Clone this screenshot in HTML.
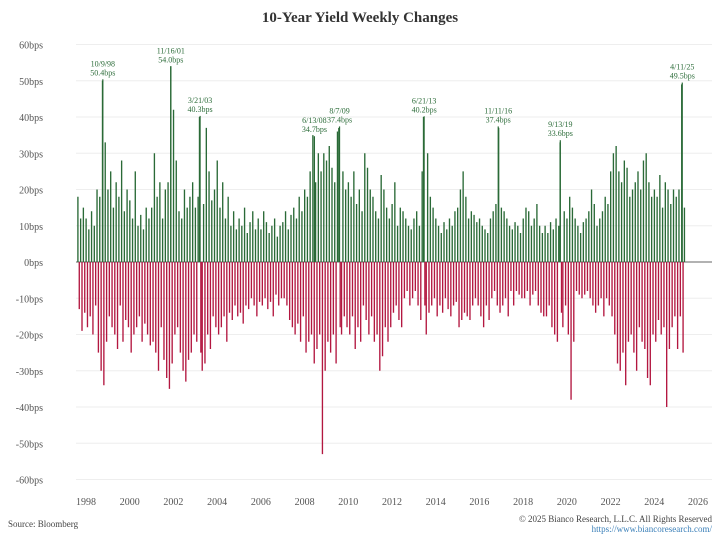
<!DOCTYPE html>
<html><head><meta charset="utf-8"><style>
body{margin:0;background:#fff;width:720px;height:540px;overflow:hidden;font-family:"Liberation Serif",serif}
</style></head><body>
<svg id="c" width="720" height="540" style="font-family:'Liberation Serif',serif">
<text x="360" y="22" text-anchor="middle" font-size="15" font-weight="bold" fill="#333">10-Year Yield Weekly Changes</text>
<g id="grid"></g><g id="bars"></g><g id="ann"></g><g id="axes"></g>
<text x="8" y="527" font-size="9" fill="#444">Source: Bloomberg</text>
<text x="712" y="522" text-anchor="end" font-size="9" fill="#444">© 2025 Bianco Research, L.L.C. All Rights Reserved</text>
<text x="712" y="532" text-anchor="end" font-size="9" fill="#3a7fb8">https://www.biancoresearch.com/</text>
</svg>
<script>
const startYear=1997.63, perYear=16;
const values=[18,-13,12,-19,15,-14,
12,-18,9,-15,14,-20,10,-12,20,-25,18,-30,50,-34,33,-22,
20,-15,25,-18,15,-20,22,-24,18,-12,28,-22,14,-16,20,-18,
17,-25,12,-20,25,-18,10,-15,13,-22,9,-17,15,-20,12,-23,
15,-22,30,-25,18,-30,22,-18,12,-27,20,-32,22,-35,54,-28,
42,-20,28,-18,14,-25,12,-30,20,-33,15,-27,18,-25,22,-20,
15,-22,18,40,-25,-30,16,-28,37,-20,25,-24,17,-15,20,-18,
28,-20,15,-18,22,-15,12,-22,18,-14,10,-16,14,-12,9,-15,
12,-14,10,-17,15,-12,8,-13,11,-10,14,-12,9,-15,12,-11,
9,-12,14,-10,11,-13,8,-11,10,-15,12,-9,7,-12,10,-10,
11,-10,14,-12,9,-16,13,-18,15,-20,12,-17,18,-22,14,-15,
20,-25,18,-22,25,-20,35,-28,22,-24,30,-20,25,-53,30,-30,
28,-22,32,-25,26,-20,22,-28,36,37,-18,-20,25,-15,20,-18,
22,-20,18,-15,25,-24,16,-18,20,-22,14,-12,30,-16,26,-20,
20,-15,18,-22,14,-20,12,-30,24,-26,20,-18,15,-22,12,-18,
16,-14,22,-12,10,-16,15,-18,14,-10,12,-8,10,-12,9,-10,
12,-8,14,-12,10,-16,25,40,-12,-20,30,-14,18,-12,15,-10,
12,-15,10,-12,8,-14,11,-10,9,-13,12,-15,10,-12,14,-11,
15,-18,20,-16,25,-14,18,-15,12,-16,14,-12,13,-10,11,-12,
12,-15,10,-18,9,-12,8,-16,12,-10,14,-8,16,-12,37,-14,
15,-12,14,-10,12,-15,10,-8,9,-12,11,-8,10,-9,8,-10,
12,-10,15,-8,14,-12,10,-9,12,-8,16,-12,10,-14,8,-15,
10,-15,8,-12,11,-18,9,-20,12,-22,10,33,-14,-18,14,-12,
12,-20,18,-38,15,-22,12,-8,10,-9,8,-10,11,-9,12,-8,
14,-10,20,-12,16,-14,10,-12,12,-10,14,-15,18,-10,16,-12,
25,-15,30,-20,32,-28,25,-30,22,-25,28,-34,26,-22,18,-20,
20,-25,22,-30,25,-18,20,-22,28,-24,30,-32,22,-34,18,-20,
20,-22,18,-16,24,-20,15,-18,22,-40,20,-24,16,-18,20,-15,
18,-24,20,-15,49,-25,15];
const yTicks=[60,50,40,30,20,10,0,-10,-20,-30,-40,-50,-60];
const xTicks=[1998,2000,2002,2004,2006,2008,2010,2012,2014,2016,2018,2020,2022,2024,2026];
const annDates=["10/9/98","11/16/01","3/21/03","6/13/08","8/7/09","6/21/13","11/11/16","9/13/19","4/11/25"];
const annYears=[1998.77,2001.88,2003.22,2008.45,2009.6,2013.47,2016.86,2019.7,2025.28];
const annVals=[50.4,54.0,40.3,34.7,37.4,40.2,37.4,33.6,49.5];
const NS="http://www.w3.org/2000/svg";
const X=y=>86+(y-1998)*(698-86)/28;
const Y=v=>262-v*3.625;
function mk(p,t,a){const e=document.createElementNS(NS,t);for(const k in a)e.setAttribute(k,a[k]);p.appendChild(e);return e;}
const grid=document.getElementById('grid'),axes=document.getElementById('axes'),bars=document.getElementById('bars'),ann=document.getElementById('ann');
yTicks.forEach(v=>{
 const l=mk(grid,'line',{x1:76,x2:712,y1:Y(v),y2:Y(v),stroke:v===0?'#666':'#eee','stroke-width':1});
 
 
 const t=mk(axes,'text',{x:43,y:Y(v)+4,'text-anchor':'end','font-size':10,fill:'#555'});
 t.textContent=v+'bps';
 
 
});
xTicks.forEach(yr=>{
 const t=mk(axes,'text',{x:X(yr),y:505,'text-anchor':'middle','font-size':10,fill:'#555'});
 t.textContent=yr;
 
 
});
values.forEach((v,i)=>{
 const x=X(startYear+i/perYear);
 const r=mk(bars,'rect',{x:x-0.68,width:1.35,y:v>=0?Y(v):Y(0),height:Math.abs(Y(v)-Y(0)),fill:v>=0?'#2a6a37':'#b31740'});
 
 
});
annDates.forEach((d,i)=>{
 const x=X(annYears[i]),v=annVals[i];
 const b=mk(bars,'rect',{x:x-0.6,width:1.2,y:Y(v),height:Y(0)-Y(v),fill:'#2a6a37'});
 
 
 const t1=mk(ann,'text',{x:x,y:Y(v)-13,'text-anchor':'middle','font-size':8,fill:'#2f6e3c'});
 t1.textContent=d;
 
 
 const t2=mk(ann,'text',{x:x,y:Y(v)-4,'text-anchor':'middle','font-size':8,fill:'#2f6e3c'});
 t2.textContent=v.toFixed(1)+'bps';
 
 
});
</script>
</body></html>
